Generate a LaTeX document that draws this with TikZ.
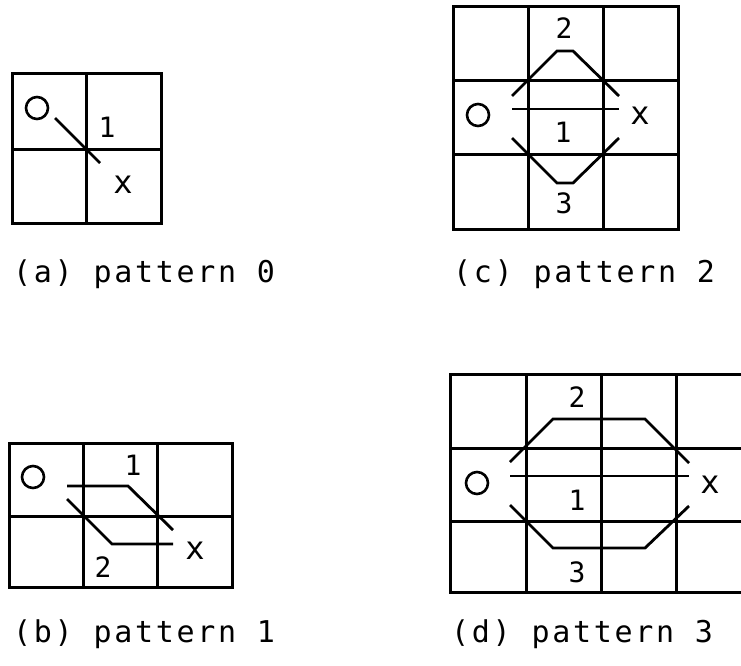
\documentclass[tikz,border=0pt]{standalone}
\usepackage{fontspec}
\newfontfamily\plotfont{DejaVu Sans Mono}
\newfontfamily\capfont[LetterSpace=9]{DejaVu Sans Mono}
\begin{document}
\begin{tikzpicture}[x=1pt,y=-1pt,
  gridline/.style={line width=3pt, line join=miter},
  trace/.style={line width=2.8pt, line join=miter},
  lbl/.style={font=\plotfont\fontsize{28}{28}\selectfont, inner sep=0pt},
  xmark/.style={font=\plotfont\fontsize{32}{32}\selectfont, inner sep=0pt},
  omark/.style={circle, draw, line width=2.6pt, minimum size=22pt, inner sep=0pt},
  caption/.style={font=\capfont\fontsize{30}{30}\selectfont, inner sep=0pt, anchor=base west}]
\useasboundingbox[fill=white] (0,0) rectangle (741,665);

% ---------- (a) pattern 0 ----------
\draw[gridline] (12,73) rectangle (161,223);
\draw[gridline] (86,73) -- (86,223) (12,149) -- (161,149);
\node[omark] (aO) at (37,108) {};
\node[lbl] (a1) at (107,127) {1};
\node[xmark] (ax) at (123,185) {x};
\draw[trace] (55,118) -- (100,163);
\node[caption] (capa) at (13,282) {(a) pattern 0};

% ---------- (c) pattern 2 ----------
\draw[gridline] (453,6) rectangle (678,229);
\draw[gridline] (528,6) -- (528,229) (603,6) -- (603,229)
  (453,80) -- (678,80) (453,154) -- (678,154);
\node[omark] (cO) at (478,115) {};
\node[xmark] (cx) at (640,116) {x};
\node[lbl] (c1) at (563,132) {1};
\node[lbl] (c2) at (564,28) {2};
\node[lbl] (c3) at (564,203) {3};
\draw[trace] (512,109) -- (619,109);
\draw[trace] (512,96) -- (557,51) -- (573,51) -- (619,96);
\draw[trace] (512,138) -- (557,183) -- (573,183) -- (619,138);
\node[caption] (capc) at (453,282) {(c) pattern 2};

% ---------- (b) pattern 1 ----------
\draw[gridline] (9,443) rectangle (232,587);
\draw[gridline] (83,443) -- (83,587) (157,443) -- (157,587) (9,516) -- (232,516);
\node[omark] (bO) at (33,477) {};
\node[lbl] (b1) at (133,465) {1};
\node[lbl] (b2) at (103,567) {2};
\node[xmark] (bx) at (195,551) {x};
\draw[trace] (67,486) -- (128,486) -- (173,530);
\draw[trace] (67,499) -- (112,544) -- (173,544);
\node[caption] (capb) at (13,642) {(b) pattern 1};

% ---------- (d) pattern 3 ----------
\draw[gridline] (741,374) -- (450,374) -- (450,592) -- (741,592);
\draw[gridline] (526,374) -- (526,592) (601,374) -- (601,592) (676,374) -- (676,592)
  (450,448) -- (741,448) (450,521) -- (741,521);
\node[omark] (dO) at (477,483) {};
\node[xmark] (dx) at (710,485) {x};
\node[lbl] (d1) at (577,500) {1};
\node[lbl] (d2) at (577,397) {2};
\node[lbl] (d3) at (577,572) {3};
\draw[trace] (510,476) -- (689,476);
\draw[trace] (510,462) -- (553,419) -- (645,419) -- (689,463);
\draw[trace] (510,505) -- (553,548) -- (645,548) -- (689,506);
\node[caption] (capd) at (451,642) {(d) pattern 3};
\end{tikzpicture}
\end{document}
